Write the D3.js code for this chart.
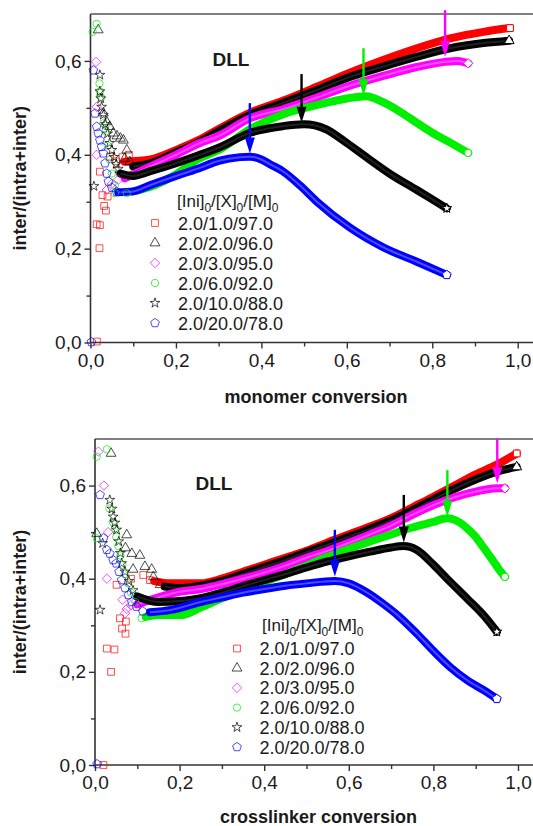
<!DOCTYPE html>
<html>
<head>
<meta charset="utf-8">
<script src="https://cdn.jsdelivr.net/npm/d3@7"></script>
<style>
  body { margin: 0; background: #fff; }
  svg { display: block; }
  text { font-family: "Liberation Sans", Arial, Helvetica, sans-serif; fill: #1a1a1a; }
</style>
</head>
<body>
<svg id="chart" width="533" height="826"></svg>
<script>
// ---- series labels ([Ini]0/[X]0/[M]0) ----
const seriesNames = ["2.0/1.0/97.0", "2.0/2.0/96.0", "2.0/3.0/95.0", "2.0/6.0/92.0", "2.0/10.0/88.0", "2.0/20.0/78.0"];

// ---- axis ticks ----
const xMajorTicks = [0, 0.2, 0.4, 0.6, 0.8, 1.0];
const xMinorTicks = [0.1, 0.3, 0.5, 0.7, 0.9];
const yMajorTicks = [0, 0.2, 0.4, 0.6];
const yMinorTicks = [0.1, 0.3, 0.5];

// ================= inter/(intra+inter) vs monomer conversion =================
// early, individually resolved points [conversion, ratio]
const monoPts1 = [[0.015,0.002],[0.021,0.201],[0.0145,0.252],[0.022,0.250],[0.032,0.291],[0.036,0.281],[0.028,0.314],[0.040,0.311],[0.022,0.364],[0.046,0.396],[0.06,0.386],[0.075,0.395],[0.09,0.40]];
const monoPts2 = [[0.018,0.666],[0.03,0.489],[0.038,0.47],[0.045,0.46],[0.053,0.446],[0.062,0.44],[0.07,0.435],[0.077,0.431],[0.085,0.41],[0.08,0.392],[0.092,0.385]];
const monoPts3 = [[0.013,0.598],[0.0145,0.502],[0.0145,0.40],[0.038,0.325],[0.05,0.338],[0.065,0.347]];
const monoPts4 = [[0.005,0.662],[0.0145,0.679],[0.021,0.552],[0.022,0.535],[0.025,0.522],[0.03,0.467],[0.035,0.45],[0.04,0.42],[0.045,0.39],[0.05,0.36],[0.057,0.335],[0.057,0.318],[0.085,0.318]];
const monoPts5 = [[0.008,0.333],[0.022,0.57],[0.022,0.535],[0.024,0.52],[0.026,0.502],[0.03,0.485],[0.035,0.465],[0.04,0.445],[0.045,0.425],[0.05,0.41],[0.055,0.395],[0.06,0.38],[0.065,0.37]];
const monoPts6 = [[0.002,0.001],[0.0066,0.58],[0.0105,0.488],[0.0145,0.46],[0.018,0.446],[0.022,0.431],[0.026,0.417],[0.03,0.403],[0.034,0.382],[0.038,0.36],[0.042,0.343],[0.05,0.33],[0.061,0.321]];
// densely sampled part of each run [conversion, ratio]
const monoCurve1 = [[0.08,0.385],[0.14,0.39],[0.2,0.41],[0.25,0.43],[0.3,0.455],[0.374,0.49],[0.45,0.515],[0.53,0.545],[0.607,0.575],[0.685,0.602],[0.764,0.627],[0.842,0.648],[0.92,0.662],[0.982,0.67]];
const monoCurve2 = [[0.1,0.375],[0.14,0.382],[0.2,0.405],[0.25,0.425],[0.3,0.45],[0.374,0.485],[0.45,0.51],[0.53,0.538],[0.607,0.566],[0.685,0.588],[0.764,0.609],[0.842,0.627],[0.92,0.638],[0.98,0.643]];
const monoCurve3 = [[0.08,0.35],[0.14,0.375],[0.2,0.40],[0.256,0.425],[0.3,0.44],[0.374,0.478],[0.45,0.497],[0.53,0.522],[0.607,0.547],[0.685,0.568],[0.764,0.587],[0.83,0.598],[0.86,0.60],[0.884,0.595]];
const monoCurve4 = [[0.1,0.322],[0.15,0.335],[0.2,0.358],[0.25,0.39],[0.3,0.41],[0.374,0.455],[0.45,0.486],[0.53,0.506],[0.6,0.52],[0.645,0.525],[0.685,0.512],[0.724,0.492],[0.764,0.468],[0.8,0.447],[0.84,0.427],[0.884,0.404]];
const monoCurve5 = [[0.07,0.36],[0.1,0.355],[0.14,0.365],[0.2,0.382],[0.25,0.398],[0.3,0.415],[0.374,0.447],[0.45,0.461],[0.5,0.465],[0.55,0.455],[0.6,0.425],[0.65,0.392],[0.7,0.36],[0.764,0.325],[0.8,0.305],[0.834,0.286]];
const monoCurve6 = [[0.065,0.32],[0.1,0.322],[0.139,0.335],[0.21,0.358],[0.256,0.372],[0.3,0.387],[0.35,0.395],[0.374,0.396],[0.4,0.39],[0.42,0.38],[0.45,0.365],[0.49,0.335],[0.53,0.30],[0.607,0.245],[0.685,0.203],[0.764,0.172],[0.834,0.144]];
// maxima markers: [conversion, arrow start, arrow tip, series index]
const monoArrows = [[0.373,0.51,0.403,5],[0.494,0.572,0.468,4],[0.639,0.627,0.527,3],[0.83,0.708,0.609,2]];

// ================= inter/(intra+inter) vs crosslinker conversion =================
const xlPts1 = [[0.02,0.0],[0.028,0.25],[0.046,0.248],[0.038,0.20],[0.059,0.315],[0.064,0.293],[0.072,0.282],[0.073,0.308],[0.051,0.387],[0.085,0.40],[0.114,0.408],[0.13,0.397]];
const xlPts2 = [[0.038,0.669],[0.004,0.497],[0.075,0.494],[0.072,0.466],[0.087,0.454],[0.106,0.45],[0.09,0.42],[0.118,0.426],[0.134,0.42],[0.138,0.404],[0.154,0.387]];
const xlPts3 = [[0.008,0.673],[0.021,0.60],[0.031,0.50],[0.028,0.40],[0.065,0.355],[0.071,0.326],[0.075,0.335],[0.085,0.343]];
const xlPts4 = [[0.004,0.662],[0.028,0.678],[0.004,0.487],[0.034,0.551],[0.042,0.522],[0.047,0.508],[0.05,0.49],[0.055,0.47],[0.06,0.45],[0.065,0.43],[0.07,0.41],[0.078,0.39],[0.085,0.37],[0.095,0.35],[0.11,0.315]];
const xlPts5 = [[0.012,0.333],[0.035,0.569],[0.04,0.55],[0.043,0.533],[0.047,0.52],[0.051,0.505],[0.018,0.476],[0.056,0.48],[0.06,0.455],[0.063,0.433],[0.071,0.415],[0.08,0.395],[0.09,0.375]];
const xlPts6 = [[0.005,0.002],[0.012,0.58],[0.02,0.487],[0.028,0.462],[0.035,0.454],[0.043,0.44],[0.05,0.433],[0.057,0.415],[0.063,0.397],[0.071,0.38],[0.079,0.365],[0.087,0.35],[0.098,0.34],[0.113,0.33]];
const xlCurve1 = [[0.14,0.395],[0.18,0.39],[0.25,0.39],[0.3,0.40],[0.35,0.415],[0.4,0.43],[0.45,0.445],[0.5,0.46],[0.55,0.478],[0.6,0.495],[0.65,0.512],[0.7,0.53],[0.75,0.553],[0.8,0.576],[0.85,0.6],[0.9,0.624],[0.95,0.645],[0.997,0.669]];
const xlCurve2 = [[0.165,0.383],[0.2,0.38],[0.25,0.385],[0.3,0.395],[0.35,0.41],[0.4,0.425],[0.45,0.44],[0.5,0.457],[0.55,0.473],[0.6,0.49],[0.65,0.507],[0.7,0.525],[0.75,0.547],[0.8,0.57],[0.85,0.593],[0.9,0.613],[0.95,0.63],[0.997,0.64]];
const xlCurve3 = [[0.1,0.345],[0.15,0.36],[0.2,0.372],[0.25,0.378],[0.3,0.388],[0.35,0.40],[0.4,0.413],[0.45,0.428],[0.5,0.445],[0.55,0.46],[0.6,0.477],[0.65,0.495],[0.7,0.514],[0.75,0.537],[0.8,0.558],[0.85,0.575],[0.9,0.587],[0.95,0.594],[0.969,0.594]];
const xlCurve4 = [[0.12,0.318],[0.15,0.322],[0.205,0.322],[0.25,0.338],[0.3,0.358],[0.35,0.378],[0.4,0.393],[0.45,0.41],[0.5,0.428],[0.55,0.447],[0.6,0.464],[0.65,0.48],[0.7,0.495],[0.75,0.51],[0.8,0.522],[0.833,0.53],[0.86,0.522],[0.88,0.508],[0.9,0.49],[0.92,0.465],[0.94,0.44],[0.955,0.42],[0.969,0.404]];
const xlCurve5 = [[0.1,0.362],[0.15,0.35],[0.2,0.352],[0.25,0.358],[0.3,0.37],[0.35,0.384],[0.4,0.397],[0.45,0.41],[0.5,0.424],[0.55,0.437],[0.6,0.448],[0.65,0.458],[0.7,0.467],[0.73,0.47],[0.76,0.462],[0.8,0.43],[0.83,0.402],[0.88,0.357],[0.92,0.32],[0.95,0.286]];
const xlCurve6 = [[0.13,0.328],[0.18,0.333],[0.25,0.35],[0.3,0.36],[0.35,0.37],[0.4,0.378],[0.45,0.385],[0.5,0.39],[0.567,0.395],[0.6,0.39],[0.64,0.372],[0.68,0.347],[0.72,0.318],[0.76,0.283],[0.8,0.245],[0.84,0.21],[0.88,0.182],[0.92,0.16],[0.95,0.142]];
const xlArrows = [[0.567,0.505,0.405,5],[0.73,0.58,0.478,4],[0.833,0.633,0.533,3],[0.951,0.70,0.605,2]];

// ---- styling ----
const colors = ["#ff0000", "#000000", "#ff00ff", "#00ee00", "#000000", "#0000ff"];
const innerColors = [null, "#3a3a3a", "#ff8cff", null, "#3a3a3a", "#8c8cff"];

// custom open-symbol shapes
const symPentagon = {
  draw(ctx, size) {
    const r = Math.sqrt(size / 2.378);
    for (let i = 0; i < 5; i++) {
      const a = -Math.PI / 2 + i * 2 * Math.PI / 5;
      const px = r * Math.cos(a), py = r * Math.sin(a);
      if (i) ctx.lineTo(px, py); else ctx.moveTo(px, py);
    }
    ctx.closePath();
  }
};
const symDiamond = {
  draw(ctx, size) {
    const r = Math.sqrt(size / 2);
    ctx.moveTo(0, -r); ctx.lineTo(r, 0); ctx.lineTo(0, r); ctx.lineTo(-r, 0); ctx.closePath();
  }
};
const symbolTypes = [d3.symbolSquare, d3.symbolTriangle, symDiamond, d3.symbolCircle, d3.symbolStar, symPentagon];
const symbolSizes = [46, 42, 44, 42, 30, 50];

const svg = d3.select("#chart");
const fmt = d => d3.format(".1f")(d).replace(".", ",");

const panels = [
  {
    title: "monomer conversion", pts: [monoPts1, monoPts2, monoPts3, monoPts4, monoPts5, monoPts6],
    curves: [monoCurve1, monoCurve2, monoCurve3, monoCurve4, monoCurve5, monoCurve6], arrows: monoArrows,
    x0: 90.5, x1: 517.7, yTop: 14, yBot: 342.5,
    legend: { hx: 177, hy: 207, sx: 155, tx: 178, y0: 223, dy: 20 },
    dll: [231, 66], titleY: 403
  },
  {
    title: "crosslinker conversion", pts: [xlPts1, xlPts2, xlPts3, xlPts4, xlPts5, xlPts6],
    curves: [xlCurve1, xlCurve2, xlCurve3, xlCurve4, xlCurve5, xlCurve6], arrows: xlArrows,
    x0: 95, x1: 518, yTop: 439, yBot: 765,
    legend: { hx: 262, hy: 631, sx: 237, tx: 259.5, y0: 648.5, dy: 19.7 },
    dll: [214, 490], titleY: 823
  }
];

panels.forEach(p => {
  const x = d3.scaleLinear().domain([0, 1]).range([p.x0, p.x1]);
  const y = d3.scaleLinear().domain([0, 0.7]).range([p.yBot, p.yTop]);
  const g = svg.append("g");
  const W = +svg.attr("width");

  // frame: top border and axis lines
  g.append("line").attr("x1", x(0)).attr("x2", W).attr("y1", y(0.7)).attr("y2", y(0.7))
    .attr("stroke", "#555").attr("stroke-width", 1.5);

  const xAxis = g.append("g").attr("transform", `translate(0,${y(0)})`)
    .call(d3.axisBottom(x).tickValues(xMajorTicks).tickFormat(fmt).tickSize(6).tickPadding(5));
  xAxis.append("g").call(d3.axisBottom(x).tickValues(xMinorTicks).tickFormat("").tickSize(4));
  const yAxis = g.append("g").attr("transform", `translate(${x(0)},0)`)
    .call(d3.axisLeft(y).tickValues(yMajorTicks).tickFormat(fmt).tickSize(6).tickPadding(3));
  yAxis.append("g").call(d3.axisLeft(y).tickValues(yMinorTicks).tickFormat("").tickSize(4));
  [xAxis, yAxis].forEach(a => {
    a.selectAll(".domain").remove();
    a.selectAll("line").attr("stroke", "#333").attr("stroke-width", 1.4);
    a.selectAll("text").style("font-size", "19px").attr("fill", "#1a1a1a");
  });
  g.append("line").attr("x1", x(0)).attr("x2", W).attr("y1", y(0)).attr("y2", y(0))
    .attr("stroke", "#333").attr("stroke-width", 1.6);
  g.append("line").attr("x1", x(0)).attr("x2", x(0)).attr("y1", y(0)).attr("y2", y(0.7))
    .attr("stroke", "#333").attr("stroke-width", 1.6);

  // axis titles
  g.append("text").attr("x", (p.x0 + p.x1) / 2 + 12).attr("y", p.titleY).attr("text-anchor", "middle")
    .style("font-size", "18px").style("font-weight", "bold").text(p.title);
  g.append("text").attr("transform", `translate(26,${(p.yTop + p.yBot) / 2}) rotate(-90)`)
    .attr("text-anchor", "middle").style("font-size", "18px").style("font-weight", "bold")
    .text("inter/(intra+inter)");
  g.append("text").attr("x", p.dll[0]).attr("y", p.dll[1]).attr("text-anchor", "middle")
    .style("font-size", "19px").style("font-weight", "bold").text("DLL");

  // runs: thick dense trace, then the individually resolved early points
  const line = d3.line().x(d => x(d[0])).y(d => y(d[1])).curve(d3.curveMonotoneX);
  const sym = i => d3.symbol().type(symbolTypes[i]).size(symbolSizes[i]);
  p.curves.forEach((c, i) => {
    g.append("path").datum(c).attr("d", line).attr("fill", "none")
      .attr("stroke", colors[i]).attr("stroke-width", 8)
      .attr("stroke-linecap", "round").attr("stroke-linejoin", "round");
    if (innerColors[i]) {
      g.append("path").datum(c).attr("d", line).attr("fill", "none")
        .attr("stroke", innerColors[i]).attr("stroke-width", 2).attr("stroke-opacity", 0.55);
    }
  });
  p.pts.forEach((pts, i) => {
    g.selectAll(null).data(pts).join("path")
      .attr("transform", d => `translate(${x(d[0])},${y(d[1])})`)
      .attr("d", sym(i)()).attr("fill", "none")
      .attr("stroke", colors[i]).attr("stroke-opacity", 0.7).attr("stroke-width", 1);
  });
  // last point of each run, drawn open
  p.curves.forEach((c, i) => {
    const d = c[c.length - 1];
    g.append("path").attr("transform", `translate(${x(d[0])},${y(d[1])})`)
      .attr("d", sym(i)()).attr("fill", "#fff").attr("stroke", colors[i]).attr("stroke-width", 1);
  });

  // arrows at the maxima
  p.arrows.forEach(a => {
    const ax = x(a[0]), ys = y(a[1]), yt = y(a[2]);
    const c = colors[a[3]];
    g.append("line").attr("x1", ax).attr("x2", ax).attr("y1", ys).attr("y2", yt - 12)
      .attr("stroke", c).attr("stroke-width", 2.4);
    g.append("path").attr("d", `M${ax - 5},${yt - 16}L${ax + 5},${yt - 16}L${ax},${yt}Z`).attr("fill", c);
  });

  // legend
  const L = p.legend;
  const hdr = g.append("text").attr("x", L.hx).attr("y", L.hy).style("font-size", "17px");
  [["[Ini]", false], ["0", true], ["/[X]", false], ["0", true], ["/[M]", false], ["0", true]].forEach(([t, sub]) => {
    hdr.append("tspan").text(t).style("font-size", sub ? "12px" : "17px")
      .attr("dy", sub ? 5 : (t === "[Ini]" ? 0 : -5));
  });
  seriesNames.forEach((n, i) => {
    const cy = L.y0 + i * L.dy;
    g.append("path").attr("transform", `translate(${L.sx},${cy})`).attr("d", sym(i)())
      .attr("fill", "none").attr("stroke", colors[i]).attr("stroke-opacity", 0.7).attr("stroke-width", 1);
    g.append("text").attr("x", L.tx).attr("y", cy + 6.5).style("font-size", "18px").text(n);
  });
});
</script>
</body>
</html>
